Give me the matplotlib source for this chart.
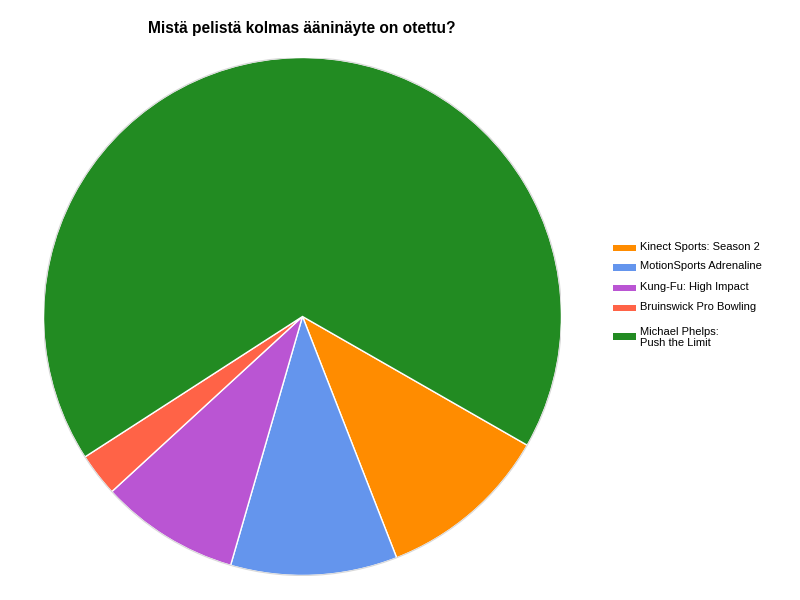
import matplotlib
matplotlib.use("Agg")
import matplotlib.pyplot as plt
from matplotlib.patches import Rectangle

plt.rcParams['font.family'] = ['Liberation Sans', 'DejaVu Sans']

# Survey answers (share of responses, %)
games = ["Kinect Sports: Season 2", "MotionSports Adrenaline", "Kung-Fu: High Impact",
         "Bruinswick Pro Bowling", "Michael Phelps:\nPush the Limit"]
shares = [10.8, 10.4, 8.7, 2.7, 67.4]
colors = ["#FF8C00", "#6495ED", "#BA55D3", "#FF6347", "#228B22"]
title = "Mistä pelistä kolmas ääninäyte on otettu?"

W, H = 800, 600
fig = plt.figure(figsize=(8, 6), dpi=100)

# Pie placed by pixel geometry: centre (302.5, 316.5), radius 259
cx, cy, r = 302.5, 316.5, 259
ax = fig.add_axes([(cx - r) / W, (H - cy - r) / H, 2 * r / W, 2 * r / H])
ax.pie(shares, colors=colors, startangle=-29.8, counterclock=False,
       wedgeprops=dict(edgecolor="white", linewidth=1.0))
# light outline round the pie
ax.add_patch(plt.Circle((0, 0), 1.0, fill=False, edgecolor="#d8d8d8", linewidth=0.8))
ax.set_xlim(-1, 1)
ax.set_ylim(-1, 1)
ax.set_aspect("equal")
ax.axis("off")

fig.text(302 / W, 1 - 28 / H, title, ha="center", va="center",
         fontsize=11.2, fontweight="bold", color="black")

# Legend drawn by hand
box_y = [248, 267.5, 288, 308, 336.5]
text_y = [247, 266.5, 287, 307, 337.5]
for name, col, yb, yt in zip(games, colors, box_y, text_y):
    fig.patches.append(Rectangle((613 / W, 1 - (yb + 3.4) / H), 23 / W, 6.8 / H,
                                 transform=fig.transFigure, facecolor=col,
                                 edgecolor="none"))
    fig.text(640 / W, 1 - yt / H, name, ha="left", va="center",
             fontsize=8, color="black", linespacing=1.12)

fig.savefig("out.png", dpi=100)
